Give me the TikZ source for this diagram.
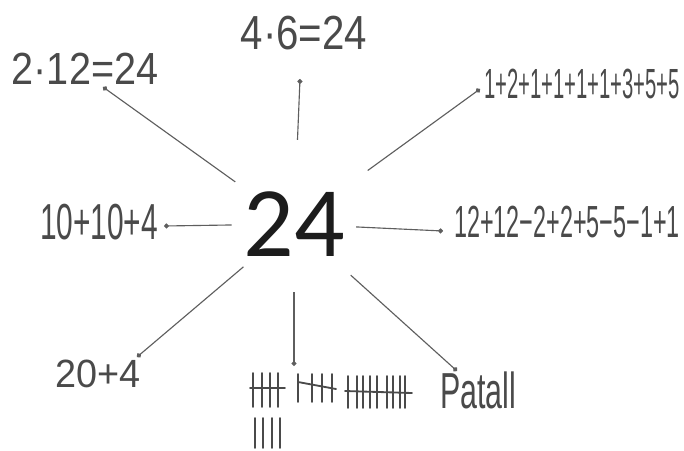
\documentclass[tikz,border=0pt]{standalone}
\usepackage{fontspec}
\usetikzlibrary{arrows.meta}
\setmainfont{Liberation Sans}
\newfontfamily\bigfont{Carlito}
\definecolor{inkGray}{HTML}{4A4A4A}
\definecolor{lineGray}{HTML}{5E5E5E}
\definecolor{numBlack}{HTML}{1C1C1C}
\newcommand{\sq}[2]{\scalebox{#1}[1]{#2}}

\begin{document}
\begin{tikzpicture}[x=0.025cm, y=-0.025cm,
    lbl/.style={inner sep=0pt, text=inkGray, font=\fontsize{32}{32}\selectfont},
    spoke/.style={-{Circle[length=3.5pt]}, line width=0.8pt, lineGray},
    tally/.style={line width=1.3pt, inkGray, line cap=round}
  ]
    \fill[white] (0,0) rectangle (684,450);
    \useasboundingbox (0,0) rectangle (684,450);

    \node[circle, minimum size=3.1cm, inner sep=0pt, text=numBlack,
      font=\bigfont\fontsize{71}{71}\selectfont] (mid) at (294,224) {24};

    \node[lbl] (twelve) at (85,69) {\sq{0.88}{2·12=24}};
    \node[lbl, font=\fontsize{34}{34}\selectfont] (six) at (304,33) {\sq{0.84}{4·6=24}};
    \node[lbl, font=\fontsize{30}{30}\selectfont] (ones) at (582,84)
      {\sq{0.48}{1+2+1+1+1+1+3+5+5}};
    \node[lbl] (twelves) at (567,222) {\sq{0.52}{12+12−2+2+5−5−1+1}};
    \node[lbl, font=\fontsize{36}{36}\selectfont] (tens) at (99,222) {\sq{0.59}{10+10+4}};
    \node[lbl, font=\fontsize{28}{28}\selectfont] (twenty) at (98,374) {\sq{0.96}{20+4}};
    \node[lbl, font=\fontsize{36}{36}\selectfont] (patall) at (478,390) {\sq{0.6}{Patall}};

    \coordinate (dTwelve) at (103,87);
    \coordinate (dSix) at (300,79);
    \coordinate (dOnes) at (480,89);
    \coordinate (dTwelves) at (443,231);
    \coordinate (dTens) at (164,226);
    \coordinate (dTwenty) at (137,357);
    \coordinate (dTally) at (294,366);
    \coordinate (dPatall) at (457,371);

    \draw[spoke, shorten <=0.25cm] (mid) -- (dTwelve);
    \draw[spoke, shorten <=0.55cm] (mid) -- (dSix);
    \draw[spoke, shorten <=0.72cm] (mid) -- (dOnes);
    \draw[spoke] (mid) -- (dTwelves);
    \draw[spoke] (mid) -- (dTens);
    \draw[spoke, shorten <=0.1cm] (mid) -- (dTwenty);
    \draw[spoke, shorten <=0.15cm] (mid) -- (dTally);
    \draw[spoke, shorten <=0.35cm] (mid) -- (dPatall);

    % tally marks
    \foreach \x in {253,262,270,278} \draw[tally] (\x,373) -- (\x,407);
    \draw[tally] (250,388) -- (285,388);
    \foreach \x in {298,312,322,332} \draw[tally] (\x,374) -- (\x,402);
    \draw[tally] (298,382) -- (336,389);
    \foreach \x in {348,357,363,370,377,387,393,400,405} \draw[tally] (\x,376) -- (\x,408);
    \draw[tally] (345,391) -- (412,393);
    \foreach \x in {255,263,272,280} \draw[tally] (\x,418) -- (\x,448);
  \end{tikzpicture}
\end{document}
